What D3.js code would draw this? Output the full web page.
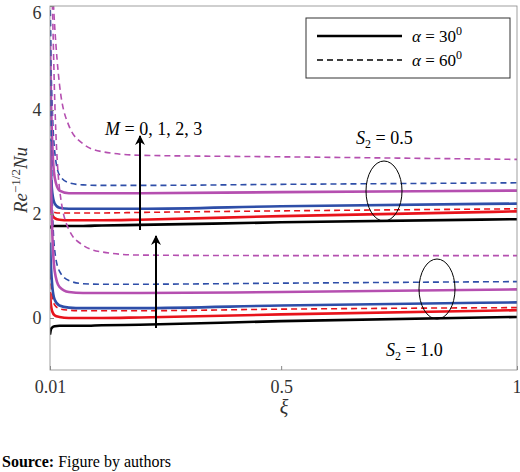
<!DOCTYPE html>
<html><head><meta charset="utf-8">
<script src="https://cdn.jsdelivr.net/npm/d3@7"></script>
<style>body{margin:0;background:#fff} svg text{font-family:"Liberation Serif",serif}</style></head><body>
<script>
const xi = [0.01,0.012,0.015,0.02,0.03,0.05,0.08,0.12,0.2,0.5,1];
const xTicks = [0.01,0.5,1];
const yTicks = [0,2,4,6];
const blackS1=[1.72,1.76,1.77,1.77,1.77,1.77,1.77,1.78,1.79,1.84,1.9];
const redS1=[2.35,2.1,1.98,1.92,1.89,1.88,1.88,1.88,1.89,1.96,2.05];
const blueS1=[3.45,2.8,2.4,2.2,2.12,2.1,2.1,2.1,2.1,2.15,2.2];
const magS1=[5.3,4.2,3.3,2.7,2.45,2.4,2.4,2.4,2.4,2.42,2.45];
const redD1=[2.2,2.12,2.06,2.03,2.02,2.02,2.02,2.02,2.03,2.06,2.1];
const blueD1=[6.5,5,4,3.2,2.75,2.6,2.56,2.55,2.55,2.57,2.6];
const magD1=[7,6.8,6.4,5.6,4.5,3.7,3.35,3.2,3.13,3.1,3.05];
const blackS2=[-0.32,-0.22,-0.18,-0.16,-0.15,-0.15,-0.15,-0.14,-0.13,-0.06,0.02];
const redS2=[0.5,0.25,0.12,0.05,0.02,0.0,0.0,0.0,0.01,0.07,0.15];
const redD2=[1.05,0.7,0.4,0.25,0.18,0.15,0.14,0.14,0.14,0.17,0.2];
const blueS2=[1.45,1.0,0.6,0.35,0.24,0.2,0.19,0.19,0.19,0.24,0.3];
const magS2=[3.4,2.6,1.6,0.9,0.6,0.5,0.48,0.48,0.48,0.5,0.55];
const blueD2=[6.5,4,2.2,1.3,0.9,0.72,0.66,0.65,0.65,0.67,0.7];
const magD2=[7,6.8,6,4.2,2.5,1.7,1.4,1.27,1.21,1.2,1.2];
const C={k:"#000",r:"#e8131b",b:"#2e4ea8",m:"#b54fb0"};
const curves=[
 [magD1,C.m,1],[blueD1,C.b,1],[redD1,C.r,1],[magS1,C.m,0],[blueS1,C.b,0],[redS1,C.r,0],[blackS1,C.k,0],
 [magD2,C.m,1],[blueD2,C.b,1],[redD2,C.r,1],[magS2,C.m,0],[blueS2,C.b,0],[redS2,C.r,0],[blackS2,C.k,0]];
const W=520,H=472,L=50,R=517,T=6,B=370;
const svg=d3.select("body").append("svg").attr("width",W).attr("height",H);
const x=d3.scaleLinear().domain([0.01,1]).range([L,R]);
const y=d3.scaleLinear().domain([-1,6]).range([B,T]);
svg.append("defs").append("clipPath").attr("id","c").append("rect").attr("x",L).attr("y",T).attr("width",R-L).attr("height",B-T);
const g=svg.append("g").attr("clip-path","url(#c)");
const line=d3.line().x((d,i)=>x(xi[i])).y(d=>y(d)).curve(d3.curveMonotoneX);
curves.forEach(([v,c,d])=>g.append("path").attr("d",line(v)).attr("fill","none").attr("stroke",c)
 .attr("stroke-width",d?1.6:2.6).attr("stroke-dasharray",d?"6,4":null));
svg.append("rect").attr("x",L).attr("y",T).attr("width",R-L).attr("height",B-T).attr("fill","none").attr("stroke","#888").attr("stroke-width",0.8);
const ax=svg.append("g").attr("transform",`translate(0,${B})`).call(d3.axisBottom(x).tickValues(xTicks).tickSize(-4).tickFormat(d=>d===0.01?"0.01":String(d)));
const ay=svg.append("g").attr("transform",`translate(${L},0)`).call(d3.axisLeft(y).tickValues(yTicks).tickSize(-4).tickFormat(d3.format("d")));
[ax,ay].forEach(a=>{a.select(".domain").remove();a.selectAll("line").attr("stroke","#888");a.selectAll("text").attr("font-size",18).attr("fill","#333");});
ax.selectAll("text").attr("dy","1.1em");
ax.selectAll("text").filter(d=>d===1).attr("text-anchor","end").attr("dx","4");
ay.selectAll("text").attr("dx","-0.3em");
ay.selectAll("text").filter(d=>d===6).attr("dy","0.7em");
svg.append("text").attr("transform","translate(27,180) rotate(-90)").attr("text-anchor","middle").attr("font-size",19).attr("font-style","italic").attr("fill","#333")
 .html('Re<tspan dy="-7" font-size="13" font-style="normal">−1/2</tspan><tspan dy="7">Nu</tspan>');
svg.append("text").attr("x",284).attr("y",414).attr("text-anchor","middle").attr("font-size",20).attr("font-style","italic").attr("fill","#333").text("ξ");
svg.append("text").attr("x",2).attr("y",467).attr("font-size",16).html('<tspan font-weight="bold">Source:</tspan> Figure by authors');
svg.append("rect").attr("x",306).attr("y",18).attr("width",204).attr("height",60).attr("fill","#fff").attr("stroke","#333");
[[0,"30"],[1,"60"]].forEach(([i,a])=>{
 const yy=36+i*24;
 svg.append("line").attr("x1",317).attr("x2",402).attr("y1",yy).attr("y2",yy).attr("stroke","#000").attr("stroke-width",i?1.6:2.6).attr("stroke-dasharray",i?"6,4":null);
 svg.append("text").attr("x",412).attr("y",yy+6).attr("font-size",17)
  .html(`<tspan font-style="italic">α</tspan> = ${a}<tspan dy="-7" font-size="12">0</tspan>`);
});
svg.append("defs").append("marker").attr("id","ar").attr("viewBox","0 0 10 10").attr("refX",9).attr("refY",5).attr("markerWidth",5).attr("markerHeight",6).attr("orient","auto")
 .append("path").attr("d","M0,0L10,5L0,10L3,5Z").attr("fill","#000");
[[140,230,136],[156,328,236]].forEach(([ax_,y1,y2])=>svg.append("line").attr("x1",ax_).attr("x2",ax_).attr("y1",y1).attr("y2",y2).attr("stroke","#000").attr("stroke-width",2).attr("marker-end","url(#ar)"));
svg.append("text").attr("x",105).attr("y",135).attr("font-size",18).html('<tspan font-style="italic">M</tspan> = 0, 1, 2, 3');
svg.append("text").attr("x",356).attr("y",144).attr("font-size",18).html('<tspan font-style="italic">S</tspan><tspan dy="4" font-size="12">2</tspan><tspan dy="-4"> = 0.5</tspan>');
svg.append("text").attr("x",386).attr("y",356).attr("font-size",18).html('<tspan font-style="italic">S</tspan><tspan dy="4" font-size="12">2</tspan><tspan dy="-4"> = 1.0</tspan>');
svg.append("ellipse").attr("cx",384).attr("cy",191).attr("rx",18).attr("ry",30).attr("fill","none").attr("stroke","#000");
svg.append("ellipse").attr("cx",437).attr("cy",289).attr("rx",18).attr("ry",30).attr("fill","none").attr("stroke","#000");
</script></body></html>
